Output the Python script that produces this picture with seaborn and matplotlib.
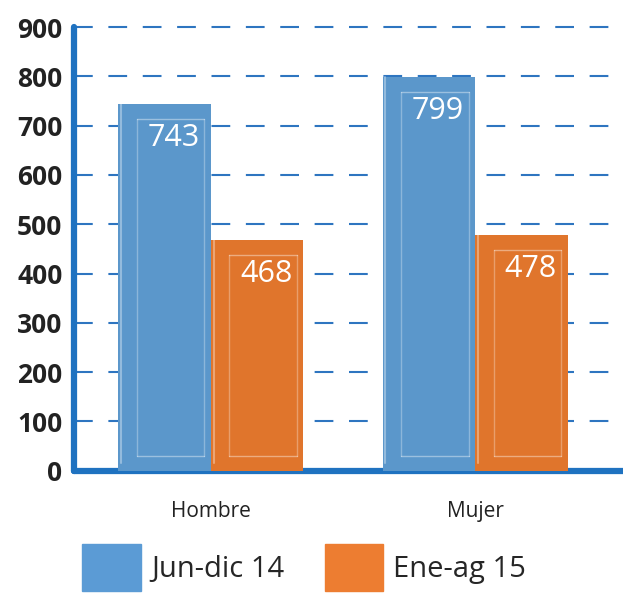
import matplotlib
matplotlib.use("Agg")
import matplotlib.pyplot as plt
import seaborn as sns
import pandas as pd

categories = ["Hombre", "Mujer"]
series = ["Jun-dic 14", "Ene-ag 15"]
jun_dic_14 = [743, 799]
ene_ag_15 = [468, 478]
yticks = [0, 100, 200, 300, 400, 500, 600, 700, 800, 900]
colors = ["#5b97cb", "#e0752c"]
legend_colors = ["#5b9bd5", "#ed7d31"]

df = pd.DataFrame({
    "sexo": categories * 2,
    "periodo": [series[0]] * 2 + [series[1]] * 2,
    "valor": jun_dic_14 + ene_ag_15,
})

sns.set_style("white")
plt.rcParams["font.family"] = ["Open Sans", "DejaVu Sans"]

fig = plt.figure(figsize=(6.23, 6.02), dpi=100)
ax = fig.add_axes([0.118, 0.218, 0.882, 0.737])

sns.barplot(data=df, x="sexo", y="valor", hue="periodo", palette=colors,
            width=0.7, gap=0.0, ax=ax, legend=False, saturation=1,
            edgecolor="none", zorder=3)

ax.set_ylim(0, 900)
ax.set_xlim(-0.52, 1.56)
ax.set_yticks(yticks)
ax.set_yticklabels([str(t) for t in yticks], fontsize=19, fontweight="bold",
                   color="#222222")
ax.tick_params(axis="y", length=0, pad=8)
ax.tick_params(axis="x", length=0, pad=22)
ax.set_xticks([0, 1])
ax.set_xticklabels(categories, fontsize=15, color="#222222")
ax.set_xlabel("")
ax.set_ylabel("")

ax.yaxis.grid(True, linestyle=(0, (9, 7.5)), color="#2e75c0", linewidth=1.5,
              zorder=0)
ax.set_axisbelow(True)
for gl in ax.yaxis.get_gridlines():
    gl.set_clip_on(False)
for s in ["top", "right"]:
    ax.spines[s].set_visible(False)
for s in ["left", "bottom"]:
    ax.spines[s].set_color("#1f72c0")
    ax.spines[s].set_linewidth(4.5)
    ax.spines[s].set_capstyle("round")

# bevel look and value labels
for bar in ax.patches:
    x0, w, h = bar.get_x(), bar.get_width(), bar.get_height()
    if h <= 0:
        continue
    ax.plot([x0 + w * 0.03, x0 + w * 0.03], [15, h], color="white",
            alpha=0.35, lw=1.5, zorder=4)
    ax.plot([x0 + w * 0.2, x0 + w * 0.2], [30, h - 30], color="white",
            alpha=0.3, lw=1, zorder=4)
    ax.plot([x0 + w * 0.2, x0 + w * 0.93], [h - 30, h - 30], color="white",
            alpha=0.4, lw=1, zorder=4)
    ax.plot([x0 + w * 0.2, x0 + w * 0.93], [30, 30], color="white",
            alpha=0.4, lw=1, zorder=4)
    ax.plot([x0 + w * 0.93, x0 + w * 0.93], [30, h - 30], color="white",
            alpha=0.3, lw=1, zorder=4)
    ax.text(x0 + w * 0.6, h - 38, f"{int(round(h))}", ha="center", va="top",
            color="white", fontsize=22, zorder=5)

# legend
handles = [plt.Rectangle((0, 0), 1, 1, color=c) for c in legend_colors]
fig.legend(handles, series, loc="lower left", bbox_to_anchor=(0.09, -0.025),
           ncol=2, frameon=False, fontsize=21, handlelength=2.0,
           handleheight=2.1, columnspacing=1.4, handletextpad=0.35)

fig.savefig("out.png", dpi=100)
